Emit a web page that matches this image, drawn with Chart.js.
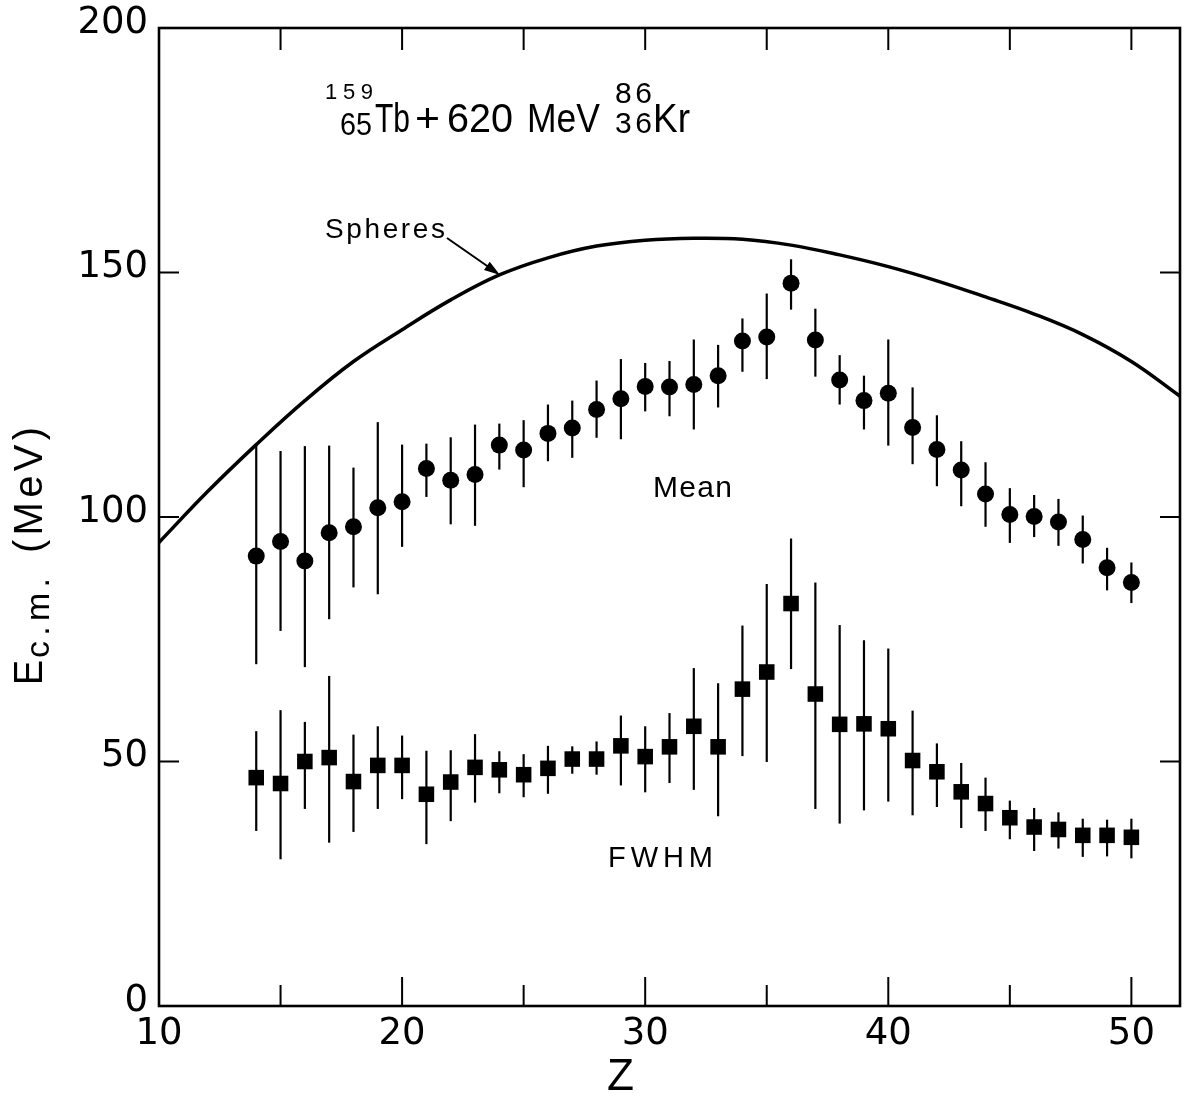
<!DOCTYPE html>
<html><head><meta charset="utf-8">
<script src="https://cdn.jsdelivr.net/npm/chart.js@4.4.1/dist/chart.umd.min.js"></script>
<style>html,body{margin:0;padding:0;background:#fff}canvas{display:block}</style>
</head><body>
<canvas id="c" width="1186" height="1097"></canvas>
<script>
// ---- data ----
const zValues    = [14,15,16,17,18,19,20,21,22,23,24,25,26,27,28,29,30,31,32,33,34,35,36,37,38,39,40,41,42,43,44,45,46,47,48,49,50];
const meanValues = [92.0,95.0,91.0,96.8,98.0,101.9,103.1,109.9,107.5,108.7,114.7,113.7,117.1,118.2,122.0,124.2,126.7,126.6,127.1,128.9,136.0,136.8,147.8,136.2,128.0,123.8,125.3,118.3,113.8,109.6,104.7,100.5,100.1,99.0,95.4,89.6,86.6];
const meanLow    = [69.9,76.7,69.3,79.1,85.6,84.2,93.9,104.1,98.5,98.2,109.7,106.1,111.4,112.1,116.2,115.9,121.6,120.6,117.9,122.4,129.7,128.2,142.4,128.7,123.0,117.9,114.6,110.8,106.3,102.2,98.0,94.7,95.9,94.1,90.5,85.0,82.4];
const meanHigh   = [114.8,113.5,114.5,114.6,110.1,119.4,114.8,115.0,116.3,118.9,119.1,119.8,123.0,123.8,127.9,132.3,131.5,131.9,136.3,135.2,140.6,145.7,152.7,142.6,133.1,128.9,136.3,126.5,120.8,115.5,111.2,105.9,104.5,103.7,100.3,93.7,90.7];
const fwhmValues = [46.7,45.5,50.0,50.8,45.9,49.2,49.2,43.3,45.8,48.8,48.3,47.3,48.6,50.5,50.5,53.2,51.0,53.0,57.2,53.0,64.8,68.3,82.3,63.8,57.6,57.7,56.7,50.2,47.9,43.8,41.4,38.5,36.6,36.1,34.9,34.9,34.5];
const fwhmLow    = [35.8,30.0,40.3,33.4,35.6,40.3,42.3,33.1,37.8,41.6,43.5,42.7,43.4,47.5,47.3,45.1,43.7,45.6,44.2,38.8,51.1,49.9,68.9,40.3,37.3,40.0,41.8,39.0,40.7,36.4,35.8,34.1,31.7,32.2,30.5,30.6,30.2];
const fwhmHigh   = [56.2,60.5,58.1,67.5,55.5,57.2,55.3,52.2,52.3,55.6,52.1,51.5,53.2,53.1,54.1,59.4,57.2,59.9,69.1,66.0,77.8,86.3,95.6,86.6,77.9,74.8,73.1,60.4,53.7,49.7,46.7,42.0,40.5,39.6,38.3,38.1,38.3];
const spheresZ   = [10,12,14,16,18,20,22,24,26,28,30,32,34,36,38,40,42,44,46,48,50,52];
const spheresE   = [94.8,105.2,114.8,123.8,131.8,138.3,144.4,149.5,153.0,155.4,156.6,157.0,156.8,155.6,153.6,151.2,148.3,145.0,141.5,137.3,131.8,124.7];
const xTickLabels = [10,20,30,40,50];
const yTickLabels = [0,50,100,150,200];
const xMajorMarks = [20,30,40,50];
const xMinorMarks = [15,25,35,45];
const xTopMarks   = [15,20,25,30,35,40,45,50];
const yMarks      = [50,100,150];

const FONT = '"Liberation Sans", Arial, sans-serif';

// draw text whose left edge is x (or right edge if alignRight) and baseline y, spanning `width` px
function fitText(ctx, text, x, y, width, size, alignRight) {
  ctx.save();
  ctx.font = size + 'px ' + FONT;
  ctx.textAlign = 'left';
  ctx.textBaseline = 'alphabetic';
  const natural = ctx.measureText(text).width;
  const left = alignRight ? x - width : x;
  if (natural < width && text.length > 1 && ('letterSpacing' in ctx)) {
    const sp = (width - natural) / (text.length - 1);
    ctx.letterSpacing = sp + 'px';
    ctx.fillText(text, left, y);
  } else {
    ctx.translate(left, y);
    ctx.scale(width / natural, 1);
    ctx.fillText(text, 0, 0);
  }
  ctx.restore();
}

const bgPlugin = {
  id: 'bg',
  beforeDraw(chart) {
    const ctx = chart.ctx;
    ctx.save(); ctx.fillStyle = '#fff'; ctx.fillRect(0, 0, chart.width, chart.height); ctx.restore();
  }
};

const errorBarPlugin = {
  id: 'errbars',
  beforeDatasetsDraw(chart) {
    const ctx = chart.ctx, xs = chart.scales.x, ys = chart.scales.y;
    ctx.save();
    ctx.strokeStyle = '#000';
    ctx.lineWidth = 2.2;
    const sets = [[meanLow, meanHigh], [fwhmLow, fwhmHigh]];
    sets.forEach(([lo, hi]) => {
      zValues.forEach((z, i) => {
        const px = xs.getPixelForValue(z);
        ctx.beginPath();
        ctx.moveTo(px, ys.getPixelForValue(lo[i]));
        ctx.lineTo(px, ys.getPixelForValue(hi[i]));
        ctx.stroke();
      });
    });
    ctx.restore();
  }
};

const decoPlugin = {
  id: 'deco',
  afterDraw(chart) {
    const ctx = chart.ctx, a = chart.chartArea, xs = chart.scales.x, ys = chart.scales.y;
    ctx.save();
    ctx.strokeStyle = '#000';
    ctx.fillStyle = '#000';
    // frame
    ctx.lineWidth = 2.6;
    ctx.strokeRect(a.left, a.top, a.right - a.left, a.bottom - a.top);
    // tick marks (inside)
    ctx.lineWidth = 2;
    ctx.beginPath();
    xMajorMarks.forEach(v => { const p = xs.getPixelForValue(v); ctx.moveTo(p, a.bottom); ctx.lineTo(p, a.bottom - 29); });
    xMinorMarks.forEach(v => { const p = xs.getPixelForValue(v); ctx.moveTo(p, a.bottom); ctx.lineTo(p, a.bottom - 21); });
    xTopMarks.forEach(v => { const p = xs.getPixelForValue(v); ctx.moveTo(p, a.top); ctx.lineTo(p, a.top + 22); });
    yMarks.forEach(v => {
      const p = ys.getPixelForValue(v);
      ctx.moveTo(a.left, p); ctx.lineTo(a.left + 20, p);
      ctx.moveTo(a.right, p); ctx.lineTo(a.right - 20, p);
    });
    ctx.stroke();

    // reaction label
    fitText(ctx, '159', 373, 99, 48, 22, true);
    fitText(ctx, '65', 372, 135, 32, 31, true);
    fitText(ctx, 'Tb', 375, 132, 35, 40);
    fitText(ctx, '+', 415, 132, 25, 40);
    fitText(ctx, '620', 447, 132, 66, 40);
    fitText(ctx, 'MeV', 527, 132, 73, 40);
    fitText(ctx, '86', 652, 103, 37, 30, true);
    fitText(ctx, '36', 652, 133, 37, 30, true);
    fitText(ctx, 'Kr', 653, 132, 37, 40);

    // curve / series labels
    fitText(ctx, 'Spheres', 325, 238, 120, 28);
    fitText(ctx, 'Mean', 653, 497, 79, 30);
    fitText(ctx, 'FWHM', 608, 867, 105, 29);

    // arrow
    const x0 = 447, y0 = 238, x1 = 500, y1 = 275;
    ctx.lineWidth = 2;
    ctx.beginPath(); ctx.moveTo(x0, y0); ctx.lineTo(x1 - 6, y1 - 4.2); ctx.stroke();
    const ang = Math.atan2(y1 - y0, x1 - x0);
    ctx.beginPath();
    ctx.moveTo(x1, y1);
    ctx.lineTo(x1 - 16 * Math.cos(ang) + 5 * Math.sin(ang), y1 - 16 * Math.sin(ang) - 5 * Math.cos(ang));
    ctx.lineTo(x1 - 16 * Math.cos(ang) - 5 * Math.sin(ang), y1 - 16 * Math.sin(ang) + 5 * Math.cos(ang));
    ctx.closePath(); ctx.fill();

    // x title
    fitText(ctx, 'Z', 607, 1090, 27, 45);

    // y title (rotated)
    ctx.save();
    ctx.translate(42, 685);
    ctx.rotate(-Math.PI / 2);
    fitText(ctx, 'E', 0, 0, 25, 40);
    fitText(ctx, 'c.m.', 27, 7, 80, 34);
    fitText(ctx, '(MeV)', 132, 0, 126, 40);
    ctx.restore();

    ctx.restore();
  }
};

new Chart(document.getElementById('c'), {
  type: 'scatter',
  data: {
    datasets: [
      {
        label: 'Spheres',
        data: spheresZ.map((z, i) => ({ x: z, y: spheresE[i] })),
        showLine: true,
        borderColor: '#000',
        borderWidth: 3.5,
        pointRadius: 0,
        tension: 0.4,
        fill: false
      },
      {
        label: 'Mean',
        data: zValues.map((z, i) => ({ x: z, y: meanValues[i] })),
        pointStyle: 'circle',
        pointRadius: 8.5,
        backgroundColor: '#000',
        borderColor: '#000',
        borderWidth: 0
      },
      {
        label: 'FWHM',
        data: zValues.map((z, i) => ({ x: z, y: fwhmValues[i] })),
        pointStyle: 'rect',
        pointRadius: 11,
        backgroundColor: '#000',
        borderColor: '#000',
        borderWidth: 0
      }
    ]
  },
  options: {
    responsive: false,
    animation: false,
    events: [],
    layout: { autoPadding: false, padding: { left: 0, right: 6, top: 28, bottom: 0 } },
    plugins: { legend: { display: false }, tooltip: { enabled: false } },
    scales: {
      x: {
        type: 'linear', min: 10, max: 52,
        afterBuildTicks: s => { s.ticks = xTickLabels.map(v => ({ value: v })); },
        afterFit: s => { s.height = 91; s.paddingLeft = 0; s.paddingRight = 0; },
        grid: { display: false, drawTicks: false },
        border: { display: false },
        ticks: { color: '#000', padding: 6, maxRotation: 0, font: { family: 'DejaVu Sans', size: 37 } },
        title: { display: false }
      },
      y: {
        type: 'linear', min: 0, max: 200,
        afterBuildTicks: s => { s.ticks = yTickLabels.map(v => ({ value: v })); },
        afterFit: s => { s.width = 159; s.paddingTop = 0; s.paddingBottom = 0; },
        grid: { display: false, drawTicks: false },
        border: { display: false },
        ticks: { color: '#000', padding: 11, labelOffset: -5, font: { family: 'DejaVu Sans', size: 37 } },
        title: { display: false }
      }
    }
  },
  plugins: [bgPlugin, errorBarPlugin, decoPlugin]
});
</script>
</body></html>
